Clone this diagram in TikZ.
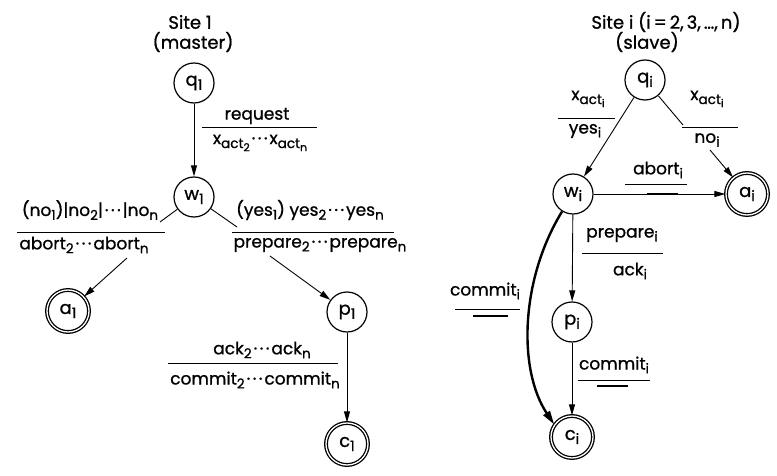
\documentclass[tikz,border=0pt]{standalone}
\usepackage{fontspec}
\setmainfont{Poppins}[FakeBold=0.9]
\usetikzlibrary{arrows.meta}
\makeatletter
\newcommand\sbs[1]{\raisebox{-0.42ex}{\fontsize{\fpeval{0.8*\f@size}}{0}\selectfont #1}}
\makeatother
\newcommand\cdts{\kern2pt\textperiodcentered\kern2.5pt\textperiodcentered\kern2.5pt\textperiodcentered\kern2pt}
\begin{document}
\begin{tikzpicture}[x=1pt,y=-1pt,
  st/.style={circle,draw,line width=1.2pt,minimum size=40pt,inner sep=0pt,font=\fontsize{18}{18}\selectfont},
  fin/.style={st,double,double distance=1.3pt,line width=1.3pt,minimum size=42pt},
  lab/.style={inner sep=0pt,font=\fontsize{17}{17}\selectfont},
  ttl/.style={inner sep=0pt,font=\fontsize{18}{18}\selectfont},
  rl/.style={line width=0.8pt},
  rlb/.style={line width=1.4pt},
  bar/.style={line width=2.2pt},
  tr/.style={line width=0.9pt,-{Triangle[length=11pt,width=6pt]}},
  ln/.style={line width=0.9pt},
  hv/.style={line width=2.4pt,-{Triangle[length=14pt,width=7.5pt]}}]
\useasboundingbox (0,0) rectangle (777,476);
% ---- Site 1
\node[ttl] (t1) at (190,22) {Site 1};
\node[ttl] (t1b) at (193,42) {(master)};
\node[st] (q1) at (194,83) {q\sbs{1}};
\node[st] (w1) at (194,197) {w\sbs{1}};
\node[fin] (a1) at (68,311) {a\sbs{1}};
\node[st] (p1) at (347,312) {p\sbs{1}};
\node[fin] (c1) at (347,444) {c\sbs{1}};

\draw[tr] (q1) -- (w1);
\node[lab] (l1a) at (257,116) {request};
\draw[rl] (202,127) -- (317,127);
\node[lab] (l1b) at (260,143) {x\sbs{act\sbs{2}}\cdts x\sbs{act\sbs{n}}};

\node[lab] (l2a) at (90,210) {(no\sbs{1})|no\sbs{2}|\cdts|no\sbs{n}};
\draw[rl] (17,232) -- (165,232);
\node[lab] (l2b) at (84,245) {abort\sbs{2}\cdts abort\sbs{n}};
\coordinate (e2) at (160,222);
\draw[ln] (w1) -- (e2);
\coordinate (s2) at (127,258);
\draw[tr] (s2) -- (a1);

\node[lab] (l3a) at (310,210) {(yes\sbs{1}) yes\sbs{2}\cdts yes\sbs{n}};
\draw[rl] (232,232) -- (394,232);
\node[lab] (l3b) at (320,245) {prepare\sbs{2}\cdts prepare\sbs{n}};
\coordinate (e3) at (237,227);
\draw[ln] (w1) -- (e3);
\coordinate (s3) at (270,256);
\draw[tr] (s3) -- (p1);

\node[lab] (l4a) at (262,350) {ack\sbs{2}\cdts ack\sbs{n}};
\draw[rl] (168,363) -- (338,363);
\node[lab] (l4b) at (255,380) {commit\sbs{2}\cdts commit\sbs{n}};
\draw[tr] (p1) -- (c1);

% ---- Site i
\node[ttl] (t2) at (666,22) {Site i (i\,=\,2,\,3,\,\ldots,\,n)};
\node[ttl] (t2b) at (647,42) {(slave)};
\node[st] (qi) at (645,80) {q\sbs{i}};
\node[st] (wi) at (573,194) {w\sbs{i}};
\node[fin] (ai) at (747,194) {a\sbs{i}};
\node[st] (pi) at (572,322) {p\sbs{i}};
\node[fin] (ci) at (572,437) {c\sbs{i}};

\draw[tr] (qi) -- (wi);
\node[lab] (l5a) at (588,99) {x\sbs{act\sbs{i}}};
\draw[rl] (558,118) -- (615,118);
\node[lab] (l5b) at (585,131) {yes\sbs{i}};

\coordinate (e6) at (683,125);
\draw[ln] (qi) -- (e6);
\node[lab] (l6a) at (707,99) {x\sbs{act\sbs{i}}};
\draw[rl] (682,127) -- (738,127);
\node[lab] (l6b) at (707,140) {no\sbs{i}};
\coordinate (s6) at (710,150);
\draw[tr] (s6) -- (ai);

\draw[tr] (wi) -- (ai);
\node[lab] (l7a) at (658,170) {abort\sbs{i}};
\draw[rl] (625,184) -- (687,184);
\draw[bar] (647,194) -- (678,194);

\draw[tr] (wi) -- (pi);
\node[lab] (l8a) at (622,235) {prepare\sbs{i}};
\draw[rl] (582,253) -- (663,253);
\node[lab] (l8b) at (630,271) {ack\sbs{i}};

\draw[tr] (pi) -- (ci);
\node[lab] (l9a) at (614,365) {commit\sbs{i}};
\draw[rl] (578,380) -- (650,380);
\draw[rlb] (597,386) -- (628,386);

\draw[hv] (wi.238) .. controls (520,280) and (518,370) .. (ci.145);
\node[lab] (l10a) at (485,291) {commit\sbs{i}};
\draw[rl] (455,309) -- (520,309);
\draw[rlb] (473,316) -- (508,316);
\end{tikzpicture}
\end{document}
